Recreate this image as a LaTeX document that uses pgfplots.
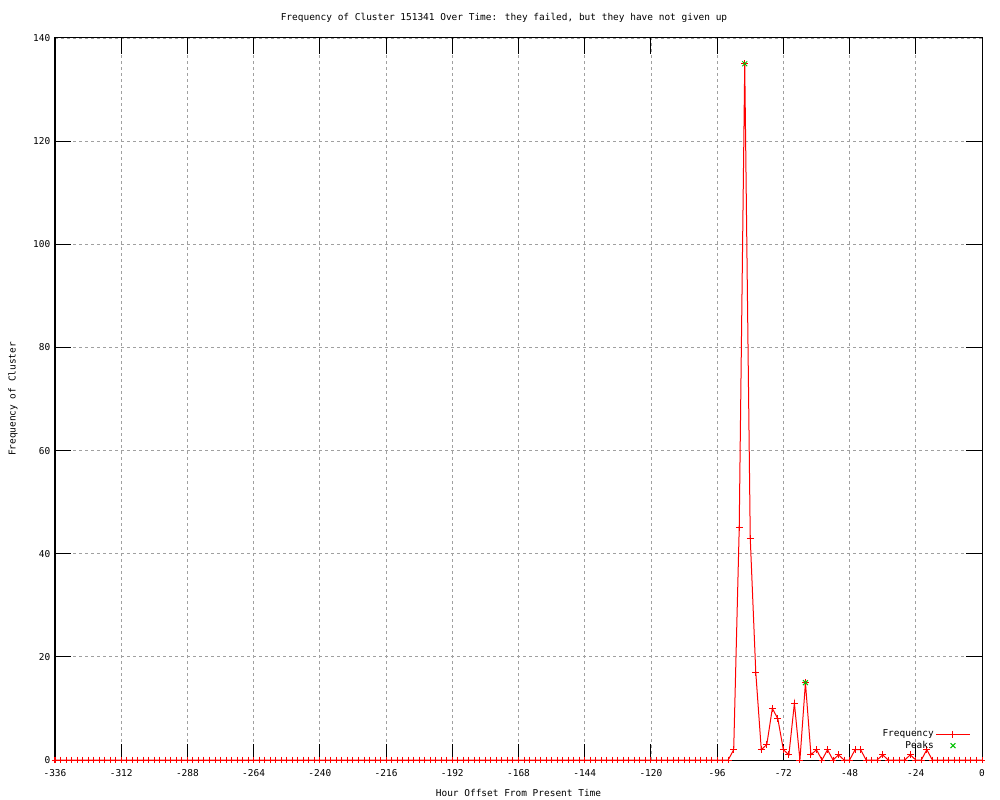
\documentclass[border=0pt]{standalone}
\usepackage{fontspec}
\setmainfont{DejaVu Sans Mono}
\usepackage{pgfplots}
\pgfplotsset{compat=1.18}
\definecolor{gpred}{RGB}{255,0,0}
\definecolor{gpgreen}{RGB}{0,192,0}
\definecolor{gpgrid}{RGB}{160,160,160}
\pgfplotsset{gplegend/.style={legend image code/.code={\draw[mark repeat=2,mark phase=2,##1] plot coordinates {(0pt,0pt) (12.5pt,0pt) (25pt,0pt)};}}}
\begin{document}
\begin{tikzpicture}[x=1pt,y=1pt]
\path[use as bounding box] (0,0) rectangle (750,600);
\node[font=\fontsize{7.1}{8.5}\selectfont] at (378,586.5) {Frequency of Cluster 151341 Over Time: they failed, but they have not given up};
\begin{axis}[
  at={(41.25pt,30pt)}, anchor=south west,
  scale only axis, width=695.25pt, height=541.5pt,
  font=\fontsize{7.1}{8.5}\selectfont,
  xmin=-336, xmax=0, ymin=0, ymax=140,
  xtick={-336,-312,...,0}, ytick={0,20,...,140},
  minor tick num=0,
  tick align=inside, major tick length=12pt,
  every tick/.style={black, line width=0.75pt},
  axis line style={line width=0.75pt},
  grid=major,
  major grid style={gpgrid, line width=0.6pt, dash pattern=on 2.25pt off 2.25pt},
  /pgf/number format/assume math mode=true,
  /pgf/number format/1000 sep={},
  xticklabel style={anchor=center, yshift=-10pt},
  yticklabel style={anchor=east, inner sep=0pt, xshift=-3.3pt},
  xlabel={Hour Offset From Present Time},
  ylabel={Frequency of Cluster},
  xlabel style={at={(rel axis cs:0.5,-0.0457)}, anchor=center},
  ylabel style={at={(rel axis cs:-0.0453,0.5)}, anchor=center, rotate=0},
  clip=false,
  legend plot pos=right,
  legend cell align=right,
  legend style={draw=none, fill=none, at={(rel axis cs:0.9875,0.045)}, anchor=north east,
    inner sep=0pt, row sep=-1.2pt, nodes={inner sep=1.5pt}},
]
\addplot[gpred, line width=0.75pt, mark=+, mark size=2.6pt, gplegend]
coordinates {
(-336,0) (-334,0) (-332,0) (-330,0) (-328,0) (-326,0) (-324,0) (-322,0) (-320,0) (-318,0) (-316,0) (-314,0)
(-312,0) (-310,0) (-308,0) (-306,0) (-304,0) (-302,0) (-300,0) (-298,0) (-296,0) (-294,0) (-292,0) (-290,0)
(-288,0) (-286,0) (-284,0) (-282,0) (-280,0) (-278,0) (-276,0) (-274,0) (-272,0) (-270,0) (-268,0) (-266,0)
(-264,0) (-262,0) (-260,0) (-258,0) (-256,0) (-254,0) (-252,0) (-250,0) (-248,0) (-246,0) (-244,0) (-242,0)
(-240,0) (-238,0) (-236,0) (-234,0) (-232,0) (-230,0) (-228,0) (-226,0) (-224,0) (-222,0) (-220,0) (-218,0)
(-216,0) (-214,0) (-212,0) (-210,0) (-208,0) (-206,0) (-204,0) (-202,0) (-200,0) (-198,0) (-196,0) (-194,0)
(-192,0) (-190,0) (-188,0) (-186,0) (-184,0) (-182,0) (-180,0) (-178,0) (-176,0) (-174,0) (-172,0) (-170,0)
(-168,0) (-166,0) (-164,0) (-162,0) (-160,0) (-158,0) (-156,0) (-154,0) (-152,0) (-150,0) (-148,0) (-146,0)
(-144,0) (-142,0) (-140,0) (-138,0) (-136,0) (-134,0) (-132,0) (-130,0) (-128,0) (-126,0) (-124,0) (-122,0)
(-120,0) (-118,0) (-116,0) (-114,0) (-112,0) (-110,0) (-108,0) (-106,0) (-104,0) (-102,0) (-100,0) (-98,0)
(-96,0) (-94,0) (-92,0) (-90,2) (-88,45) (-86,135) (-84,43) (-82,17) (-80,2) (-78,3) (-76,10) (-74,8)
(-72,2) (-70,1) (-68,11) (-66,0) (-64,15) (-62,1) (-60,2) (-58,0) (-56,2) (-54,0) (-52,1) (-50,0)
(-48,0) (-46,2) (-44,2) (-42,0) (-40,0) (-38,0) (-36,1) (-34,0) (-32,0) (-30,0) (-28,0) (-26,1)
(-24,0) (-22,0) (-20,2) (-18,0) (-16,0) (-14,0) (-12,0) (-10,0) (-8,0) (-6,0) (-4,0) (-2,0)
(0,0)
};
\addlegendentry{Frequency}
\addplot[gpgreen, only marks, line width=0.75pt, mark=x, mark size=2.6pt, gplegend]
coordinates {(-86,135) (-64,15)};
\addlegendentry{Peaks}
\end{axis}
\end{tikzpicture}
\end{document}
